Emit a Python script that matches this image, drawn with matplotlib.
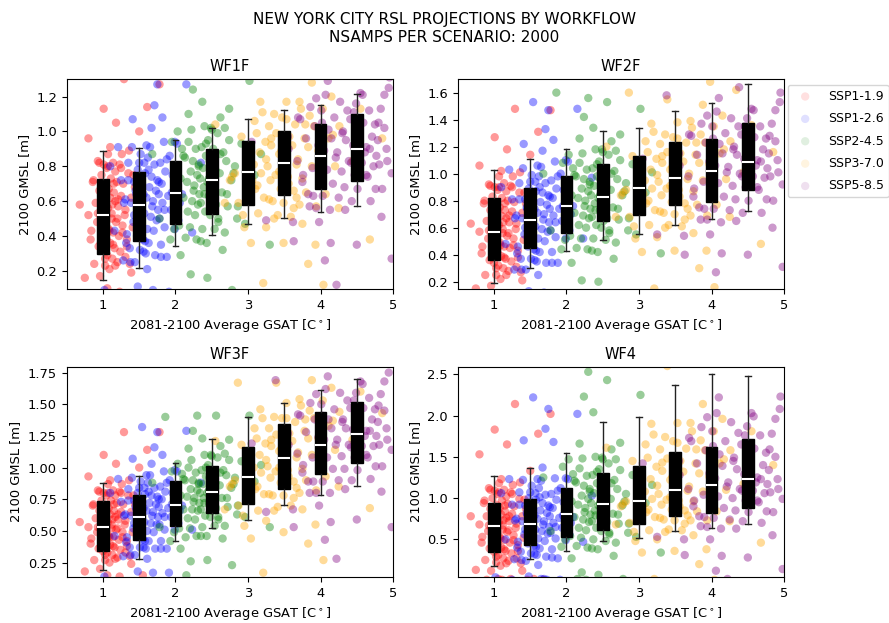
import matplotlib
matplotlib.use("Agg")
import matplotlib.pyplot as plt
from matplotlib.ticker import MultipleLocator

plt.rcParams.update({
    "xtick.labelsize": 9.4,
    "ytick.labelsize": 9.4,
    "axes.labelsize": 9.4,
    "axes.titlesize": 10.5,
})

# ---------------------------------------------------------------------------
# Scenario labels and colours
scenarios = ["SSP1-1.9", "SSP1-2.6", "SSP2-4.5", "SSP3-7.0", "SSP5-8.5"]
colors = ["red", "blue", "green", "orange", "purple"]
workflows = ["WF1F", "WF2F", "WF3F", "WF4"]

# 2081-2100 average GSAT samples [deg C] per scenario
gsat_ssp119 = [0.68, 0.75, 0.80, 0.84, 0.87, 0.90, 0.93, 0.95, 0.97, 0.99,
               1.01, 1.03, 1.04, 1.06, 1.07, 1.09, 1.10, 1.11, 1.13, 1.14,
               1.15, 1.17, 1.18, 1.20, 1.21, 1.23, 1.25, 1.27, 1.29, 1.31,
               1.33, 1.36, 1.39, 1.42, 1.46, 1.50, 1.55, 1.61, 1.68, 1.78,
               .80, .83, .86, .88, .90, .92, .93, .94, .95, .96,
               .97, .98, .99, 1.00, 1.00, 1.01, 1.02, 1.03, 1.03, 1.04,
               1.05, 1.05, 1.06, 1.07, 1.07, 1.08, 1.08, 1.09, 1.10, 1.10,
               1.11, 1.12, 1.12, 1.13, 1.14, 1.14, 1.15, 1.16, 1.17, 1.17,
               1.18, 1.19, 1.20, 1.21, 1.22, 1.23, 1.24, 1.25, 1.26, 1.27,
               1.28, 1.30, 1.31, 1.33, 1.35, 1.37, 1.39, 1.41, 1.44, 1.48]
gsat_ssp126 = [1.02, 1.10, 1.16, 1.21, 1.25, 1.29, 1.32, 1.35, 1.38, 1.41,
               1.43, 1.46, 1.48, 1.50, 1.52, 1.54, 1.56, 1.58, 1.60, 1.61,
               1.63, 1.65, 1.67, 1.69, 1.71, 1.73, 1.75, 1.77, 1.80, 1.82,
               1.85, 1.88, 1.91, 1.95, 1.99, 2.04, 2.09, 2.15, 2.23, 2.35,
               1.25, 1.28, 1.31, 1.33, 1.35, 1.37, 1.39, 1.40, 1.42, 1.43,
               1.44, 1.45, 1.47, 1.48, 1.49, 1.50, 1.51, 1.52, 1.53, 1.54,
               1.55, 1.56, 1.57, 1.57, 1.58, 1.59, 1.60, 1.61, 1.62, 1.63,
               1.64, 1.65, 1.66, 1.67, 1.68, 1.69, 1.70, 1.71, 1.72, 1.73,
               1.74, 1.75, 1.76, 1.77, 1.78, 1.79, 1.80, 1.81, 1.82, 1.84,
               1.85, 1.86, 1.88, 1.90, 1.92, 1.94, 1.96, 1.99, 2.02, 2.06]
gsat_ssp245 = [1.68, 1.78, 1.86, 1.93, 1.98, 2.03, 2.07, 2.11, 2.15, 2.18,
               2.21, 2.24, 2.27, 2.30, 2.32, 2.35, 2.37, 2.40, 2.42, 2.44,
               2.46, 2.49, 2.51, 2.54, 2.56, 2.59, 2.62, 2.65, 2.68, 2.71,
               2.74, 2.78, 2.82, 2.86, 2.91, 2.96, 3.02, 3.09, 3.18, 3.30,
               1.95, 1.99, 2.02, 2.05, 2.07, 2.09, 2.11, 2.13, 2.14, 2.16,
               2.17, 2.18, 2.20, 2.21, 2.22, 2.23, 2.24, 2.25, 2.26, 2.27,
               2.28, 2.29, 2.30, 2.31, 2.32, 2.33, 2.34, 2.35, 2.36, 2.37,
               2.38, 2.39, 2.40, 2.41, 2.42, 2.43, 2.44, 2.45, 2.46, 2.47,
               2.48, 2.50, 2.51, 2.52, 2.54, 2.55, 2.56, 2.58, 2.59, 2.61,
               2.62, 2.64, 2.66, 2.68, 2.70, 2.72, 2.74, 2.77, 2.80, 2.85]
gsat_ssp370 = [2.55, 2.68, 2.78, 2.86, 2.93, 2.99, 3.04, 3.09, 3.13, 3.17,
               3.21, 3.25, 3.29, 3.32, 3.36, 3.39, 3.43, 3.46, 3.49, 3.53,
               3.56, 3.60, 3.63, 3.67, 3.71, 3.75, 3.79, 3.83, 3.88, 3.93,
               3.98, 4.04, 4.10, 4.17, 4.25, 4.34, 4.44, 4.55, 4.68, 4.85,
               2.75, 2.82, 2.87, 2.91, 2.95, 2.98, 3.01, 3.04, 3.06, 3.08,
               3.10, 3.12, 3.14, 3.16, 3.18, 3.20, 3.22, 3.24, 3.25, 3.27,
               3.29, 3.31, 3.32, 3.34, 3.36, 3.38, 3.39, 3.41, 3.43, 3.45,
               3.47, 3.49, 3.51, 3.53, 3.55, 3.57, 3.59, 3.61, 3.63, 3.65,
               3.67, 3.69, 3.71, 3.73, 3.75, 3.78, 3.80, 3.83, 3.85, 3.88,
               3.91, 3.94, 3.97, 4.00, 4.03, 4.07, 4.11, 4.15, 4.20, 4.26]
gsat_ssp585 = [3.05, 3.25, 3.38, 3.48, 3.56, 3.63, 3.69, 3.75, 3.80, 3.85,
               3.90, 3.94, 3.98, 4.02, 4.06, 4.10, 4.14, 4.18, 4.22, 4.26,
               4.30, 4.34, 4.38, 4.42, 4.46, 4.50, 4.54, 4.58, 4.63, 4.68,
               4.72, 4.76, 4.80, 4.84, 4.88, 4.92, 4.95, 4.98, 5.06, 5.20,
               3.55, 3.62, 3.68, 3.72, 3.76, 3.80, 3.83, 3.86, 3.89, 3.92,
               3.94, 3.97, 3.99, 4.01, 4.03, 4.05, 4.07, 4.09, 4.11, 4.13,
               4.15, 4.17, 4.19, 4.21, 4.23, 4.25, 4.27, 4.29, 4.31, 4.33,
               4.35, 4.37, 4.39, 4.41, 4.43, 4.45, 4.47, 4.49, 4.51, 4.53,
               4.55, 4.57, 4.59, 4.61, 4.63, 4.65, 4.67, 4.69, 4.71, 4.73,
               4.75, 4.77, 4.79, 4.81, 4.83, 4.85, 4.88, 4.91, 4.94, 4.98]

# 2100 GMSL samples [m], workflow WF1F
wf1f_ssp119 = [.58, .16, .96, .43, .72, .04, .53, .82, .36, .50, 1.13, .27, .65, .10, .80, .43, .91, .02, .58, .35,
               .70, .23, 1.05, .50, .61, .08, .79, .42, 1.30, .28, .34, .89, .19, .75, .03, 1.00, .07, 1.14, .02, 1.27,
               .52, .38, .71, .24, .59, .48, .83, .34, .66, .17, .51, .75, .43, .63, .32, .81, .46, .70, .23, .58,
               .38, .79, .29, .56, .87, .44, .67, .21, .62, .36, .73, .50, .53, .27, .82, .42, .65, .33, .60, .77,
               .48, .71, .25, .57, .40, .81, .31, .63, .87, .46, .70, .52, .55, .38, .76, .24, .62, .45, .68, .52]
wf1f_ssp126 = [.09, .80, .43, .91, .02, .59, .36, .72, .25, 1.07, .52, .64, .11, .82, .45, 1.33, .31, .37, .92, .21,
               .78, .03, 1.02, .09, 1.15, .02, 1.27, .71, .28, 1.08, .55, .84, .08, .65, .94, .49, .64, 1.27, .42, .82,
               .72, .26, .61, .41, .82, .33, .59, .91, .48, .71, .25, .66, .40, .78, .55, .58, .32, .87, .46, .70,
               .38, .64, .82, .53, .76, .30, .62, .44, .85, .36, .68, .91, .51, .74, .57, .60, .43, .81, .29, .66,
               .49, .72, .55, .64, .50, .82, .35, .70, .59, .94, .45, .77, .28, .63, .86, .55, .75, .44, .93, .59]
wf1f_ssp245 = [.87, .50, 1.40, .38, .44, 1.00, .29, .86, .07, 1.10, .18, 1.24, .02, 1.36, .80, .37, 1.17, .64, .93, .16,
               .73, 1.02, .56, .71, 1.34, .48, .87, .32, 1.02, .64, 1.13, .09, .80, .57, .93, .47, 1.29, .75, .87, .35,
               .94, .54, .78, .46, .73, .90, .62, .85, .39, .71, .54, .94, .45, .77, 1.01, .60, .83, .66, .69, .52,
               .90, .38, .75, .58, .81, .64, .73, .59, .91, .44, .79, .68, 1.03, .54, .86, .36, .71, .95, .63, .83,
               .52, 1.01, .66, .90, .44, .78, .58, .99, .50, .76, 1.08, .65, .88, .42, .83, .57, .95, .72, .76, .50]
wf1f_ssp370 = [1.04, .59, .74, 1.37, .52, .91, .36, 1.06, .69, 1.17, .13, .84, .61, .96, .50, 1.32, .77, .89, .36, 1.07,
               .70, 1.58, .56, .62, 1.17, .47, 1.04, .24, 1.28, .35, 1.42, .12, 1.54, .98, .56, 1.36, .83, 1.13, .38, .96,
               .72, .76, .59, .97, .45, .83, .66, .90, .72, .81, .67, .99, .53, .88, .76, 1.11, .62, .94, .45, .80,
               1.03, .72, .92, .60, 1.10, .75, .99, .52, .87, .67, 1.08, .59, .85, 1.17, .74, .97, .51, .92, .66, 1.04,
               .81, .84, .58, 1.13, .73, .96, .65, .91, 1.09, .80, 1.03, .57, .89, .72, 1.13, .64, .96, 1.20, .80, 1.03]
wf1f_ssp585 = [.94, .49, 1.32, .77, .90, .37, 1.08, .71, 1.60, .57, .63, 1.19, .48, 1.05, .26, 1.29, .36, 1.42, .12, 1.55,
               .99, .55, 1.35, .82, 1.11, .35, .92, 1.21, .75, .90, 1.53, .67, 1.05, .51, 1.21, .83, 1.31, .27, .99, .77,
               .97, .48, .83, 1.07, .75, .96, .64, 1.14, .79, 1.03, .56, .92, .71, 1.12, .63, .89, 1.21, .78, 1.01, .55,
               .96, .70, 1.08, .85, .88, .62, 1.17, .77, 1.00, .68, .95, 1.12, .83, 1.07, .60, .92, .75, 1.16, .67, .99,
               1.22, .82, 1.05, .88, .91, .74, 1.12, .60, .97, .80, 1.04, .86, .95, .81, 1.13, .67, 1.02, .90, 1.25, .76]

# workflow WF2F
wf2f_ssp119 = [.63, .15, 1.06, .46, .80, .02, .58, .91, .38, .55, 1.27, .30, .73, .10, .90, .47, 1.02, .01, .64, .38,
               .78, .25, 1.18, .56, .69, .08, .90, .47, 1.48, .31, .38, 1.01, .21, .86, .03, 1.14, .09, 1.31, .02, 1.47,
               .57, .41, .78, .25, .65, .52, .92, .36, .73, .17, .57, .83, .47, .70, .34, .90, .51, .77, .25, .64,
               .42, .88, .32, .62, .98, .49, .75, .22, .69, .39, .82, .56, .59, .30, .93, .46, .73, .37, .67, .87,
               .54, .80, .28, .64, .45, .91, .35, .72, .98, .52, .79, .59, .63, .43, .86, .27, .71, .51, .78, .59]
wf2f_ssp126 = [.09, .90, .48, 1.03, .02, .67, .41, .81, .29, 1.22, .60, .74, .13, .94, .52, 1.53, .36, .43, 1.06, .25,
               .90, .04, 1.17, .12, 1.33, .02, 1.47, .83, .34, 1.25, .64, .98, .11, .76, 1.10, .58, .76, 1.48, .52, .97,
               .81, .29, .69, .46, .93, .37, .67, 1.04, .55, .81, .29, .75, .46, .89, .63, .66, .37, .99, .53, .80,
               .44, .74, .94, .61, .87, .35, .71, .52, .98, .42, .79, 1.05, .59, .86, .66, .70, .50, .93, .34, .77,
               .57, .84, .64, .74, .58, .95, .42, .82, .69, 1.09, .53, .89, .34, .74, 1.00, .65, .88, .52, 1.09, .70]
wf2f_ssp245 = [1.00, .58, 1.60, .44, .51, 1.14, .34, .99, .09, 1.26, .21, 1.42, .02, 1.56, .92, .43, 1.34, .73, 1.07, .20,
               .84, 1.18, .65, .82, 1.53, .56, 1.00, .37, 1.17, .74, 1.29, .11, .93, .67, 1.07, .55, 1.48, .86, 1.01, .41,
               1.08, .63, .90, .54, .84, 1.04, .71, .98, .45, .82, .62, 1.08, .52, .89, 1.15, .69, .96, .76, .80, .60,
               1.03, .44, .87, .67, .94, .74, .84, .68, 1.04, .52, .91, .78, 1.18, .62, .98, .42, .82, 1.09, .73, .96,
               .60, 1.16, .77, 1.03, .51, .90, .67, 1.14, .58, .88, 1.24, .75, 1.02, .49, .96, .66, 1.10, .84, .87, .58]
wf2f_ssp370 = [1.20, .68, .86, 1.60, .61, 1.06, .42, 1.24, .80, 1.37, .15, .99, .72, 1.13, .60, 1.55, .91, 1.05, .43, 1.26,
               .83, 1.87, .66, .74, 1.39, .56, 1.23, .30, 1.51, .43, 1.68, .16, 1.83, 1.18, .68, 1.62, 1.01, 1.36, .48, 1.16,
               .84, .88, .68, 1.13, .52, .97, .77, 1.05, .85, .95, .78, 1.16, .62, 1.03, .89, 1.31, .73, 1.11, .53, .94,
               1.22, .84, 1.08, .71, 1.29, .89, 1.16, .62, 1.03, .79, 1.27, .70, 1.01, 1.38, .88, 1.15, .61, 1.09, .78, 1.23,
               .96, 1.00, .69, 1.34, .87, 1.14, .77, 1.08, 1.29, .95, 1.23, .69, 1.07, .87, 1.35, .77, 1.15, 1.43, .96, 1.24]
wf2f_ssp585 = [1.11, .55, 1.58, .91, 1.06, .40, 1.29, .83, 1.93, .66, .74, 1.43, .55, 1.26, .27, 1.56, .41, 1.73, .11, 1.88,
               1.18, .65, 1.64, .98, 1.35, .40, 1.10, 1.47, .90, 1.09, 1.86, .81, 1.28, .60, 1.47, 1.01, 1.60, .31, 1.20, .93,
               1.15, .54, .98, 1.28, .89, 1.14, .75, 1.37, .94, 1.23, .66, 1.09, .84, 1.35, .74, 1.06, 1.46, .93, 1.22, .64,
               1.15, .83, 1.30, 1.01, 1.05, .73, 1.41, .91, 1.20, .81, 1.14, 1.35, 1.00, 1.29, .71, 1.11, .90, 1.41, .80, 1.19,
               1.48, .98, 1.27, 1.06, 1.10, .88, 1.35, .71, 1.18, .97, 1.26, 1.04, 1.15, .98, 1.37, .80, 1.24, 1.10, 1.53, .92]

# workflow WF3F
wf3f_ssp119 = [.57, .18, .93, .44, .71, .01, .53, .81, .38, .52, 1.10, .31, .66, .15, .80, .45, .90, .02, .59, .38,
               .71, .28, 1.03, .52, .63, .14, .80, .45, 1.28, .33, .38, .90, .24, .78, .04, 1.00, .15, 1.14, .02, 1.28,
               .53, .40, .70, .27, .60, .49, .82, .36, .66, .20, .53, .74, .45, .64, .34, .80, .48, .70, .27, .59,
               .40, .78, .33, .57, .87, .46, .68, .25, .63, .39, .74, .52, .55, .31, .82, .45, .66, .37, .61, .78,
               .51, .72, .29, .59, .43, .81, .35, .65, .87, .49, .71, .55, .58, .42, .78, .30, .65, .49, .71, .56]
wf3f_ssp126 = [.14, .80, .46, .91, .03, .62, .41, .74, .31, 1.07, .56, .67, .18, .84, .50, 1.32, .37, .42, .94, .28,
               .81, .07, 1.03, .17, 1.16, .02, 1.28, .75, .36, 1.10, .61, .88, .17, .71, .98, .56, .70, 1.29, .51, .88,
               .73, .30, .63, .45, .83, .37, .62, .92, .52, .74, .31, .69, .45, .80, .58, .61, .37, .89, .51, .73,
               .43, .68, .84, .57, .79, .36, .66, .50, .88, .42, .72, .94, .56, .78, .62, .65, .49, .84, .36, .71,
               .55, .77, .61, .69, .55, .85, .42, .75, .64, .97, .51, .81, .36, .68, .90, .61, .80, .51, .97, .66]
wf3f_ssp245 = [.88, .53, 1.40, .42, .49, 1.03, .36, .91, .15, 1.15, .26, 1.29, .03, 1.41, .87, .46, 1.23, .72, 1.00, .27,
               .82, 1.10, .66, .80, 1.41, .59, .96, .44, 1.11, .76, 1.22, .23, .92, .70, 1.05, .61, 1.41, .89, 1.02, .53,
               .97, .59, .82, .52, .78, .95, .67, .90, .45, .77, .60, 1.00, .52, .83, 1.06, .67, .90, .73, .76, .59,
               .96, .46, .82, .66, .88, .72, .80, .67, .98, .53, .87, .76, 1.10, .62, .93, .46, .80, 1.02, .72, .92,
               .61, 1.09, .76, .98, .54, .88, .68, 1.08, .61, .86, 1.17, .76, .98, .54, .94, .69, 1.06, .84, .87, .63]
wf3f_ssp370 = [1.21, .67, .87, 1.67, .62, 1.11, .44, 1.31, .85, 1.46, .17, 1.06, .79, 1.22, .66, 1.67, 1.00, 1.15, .49, 1.39,
               .93, 2.03, .76, .84, 1.54, .67, 1.38, .40, 1.69, .55, 1.88, .27, 2.05, 1.37, .85, 1.86, 1.22, 1.60, .68, 1.43,
               .85, .90, .70, 1.18, .54, 1.01, .81, 1.10, .89, 1.00, .83, 1.23, .66, 1.10, .96, 1.39, .79, 1.19, .58, 1.01,
               1.31, .92, 1.17, .78, 1.40, .97, 1.26, .69, 1.13, .88, 1.39, .78, 1.11, 1.51, .98, 1.27, .70, 1.21, .89, 1.36,
               1.08, 1.12, .80, 1.49, .99, 1.29, .90, 1.23, 1.45, 1.10, 1.39, .82, 1.23, 1.02, 1.53, .93, 1.33, 1.63, 1.14, 1.44]
wf3f_ssp585 = [1.19, .65, 1.69, 1.02, 1.18, .53, 1.42, .96, 2.07, .80, .89, 1.58, .70, 1.41, .43, 1.72, .57, 1.89, .28, 2.05,
               1.36, .83, 1.82, 1.16, 1.53, .59, 1.30, 1.66, 1.10, 1.29, 2.07, 1.01, 1.49, .81, 1.68, 1.22, 1.82, .53, 1.43, 1.17,
               1.27, .67, 1.11, 1.41, 1.02, 1.28, .89, 1.51, 1.08, 1.38, .80, 1.24, .99, 1.50, .89, 1.22, 1.62, 1.08, 1.38, .80,
               1.31, .99, 1.46, 1.18, 1.22, .90, 1.59, 1.09, 1.38, .99, 1.31, 1.53, 1.18, 1.47, .90, 1.30, 1.08, 1.59, .98, 1.38,
               1.68, 1.17, 1.47, 1.25, 1.29, 1.08, 1.55, .91, 1.38, 1.17, 1.46, 1.25, 1.36, 1.18, 1.58, 1.01, 1.45, 1.31, 1.75, 1.14]

# workflow WF4
wf4_ssp119 = [.78, .13, 1.53, .53, .97, .01, .67, 1.10, .41, .63, 1.83, .29, .85, .02, 1.07, .51, 1.23, .01, .73, .38,
              .91, .21, 1.65, .61, .78, .02, 1.05, .49, 2.14, .27, .36, 1.19, .12, .98, .01, 1.33, .02, 1.78, .01, 2.02,
              .68, .46, .94, .25, .78, .60, 1.12, .39, .87, .12, .65, 1.00, .52, .83, .35, 1.09, .57, .92, .22, .75,
              .44, 1.05, .31, .71, 1.18, .53, .88, .18, .80, .40, .97, .62, .67, .27, 1.10, .49, .84, .36, .76, 1.02,
              .59, .93, .24, .72, .46, 1.07, .33, .81, 1.16, .55, .90, .64, .69, .43, .99, .21, .78, .52, .87, .62]
wf4_ssp126 = [.04, 1.06, .50, 1.23, .01, .73, .40, .92, .25, 1.70, .62, .80, .05, 1.07, .52, 2.22, .32, .41, 1.23, .19,
              1.01, .02, 1.37, .02, 1.84, .01, 2.08, .89, .28, 1.68, .65, 1.09, .01, .79, 1.24, .56, .77, 2.02, .47, 1.03,
              .92, .26, .75, .47, 1.07, .35, .72, 1.22, .56, .91, .24, .82, .45, 1.00, .65, .69, .33, 1.15, .54, .88,
              .42, .79, 1.06, .62, .98, .31, .75, .51, 1.12, .39, .85, 1.21, .60, .94, .68, .72, .48, 1.04, .29, .82,
              .57, .91, .65, .78, .58, 1.05, .38, .88, .70, 1.24, .51, .98, .27, .76, 1.12, .64, .95, .49, 1.23, .70]
wf4_ssp245 = [1.25, .60, 2.67, .41, .50, 1.47, .27, 1.21, .02, 1.66, .10, 2.23, .01, 2.53, 1.08, .39, 2.04, .79, 1.32, .07,
              .94, 1.49, .68, .90, 2.43, .56, 1.18, .30, 1.47, .80, 1.67, .02, 1.05, .69, 1.28, .53, 2.25, .94, 1.16, .34,
              1.38, .66, 1.06, .54, .96, 1.29, .77, 1.19, .42, .92, .64, 1.36, .52, 1.03, 1.48, .74, 1.15, .83, .88, .61,
              1.27, .40, .99, .71, 1.11, .80, .94, .72, 1.28, .50, 1.06, .85, 1.50, .64, 1.18, .38, .91, 1.35, .78, 1.13,
              .60, 1.47, .83, 1.25, .48, 1.03, .71, 1.42, .58, .99, 1.59, .81, 1.22, .46, 1.11, .69, 1.34, .91, .96, .58]
wf4_ssp370 = [1.61, .68, .93, 2.80, .59, 1.30, .34, 1.65, .86, 1.90, .02, 1.15, .76, 1.43, .59, 2.60, 1.01, 1.26, .36, 1.67,
              .90, 3.38, .69, .79, 1.91, .55, 1.59, .20, 2.14, .38, 2.85, .01, 3.22, 1.47, .72, 2.66, 1.17, 1.81, .46, 1.40,
              .90, .96, .70, 1.45, .48, 1.13, .82, 1.27, .92, 1.08, .83, 1.49, .61, 1.23, .99, 1.77, .77, 1.38, .50, 1.05,
              1.59, .92, 1.33, .74, 1.74, .98, 1.48, .62, 1.22, .86, 1.69, .73, 1.17, 1.91, .97, 1.45, .61, 1.32, .85, 1.60,
              1.09, 1.14, .73, 1.81, .96, 1.42, .84, 1.30, 1.70, 1.08, 1.58, .73, 1.26, .97, 1.81, .84, 1.42, 1.96, 1.10, 1.58]
wf4_ssp585 = [1.42, .53, 2.72, 1.01, 1.28, .31, 1.73, .90, 3.57, .66, .77, 1.98, .50, 1.63, .12, 2.22, .30, 2.97, .02, 3.36,
              1.45, .63, 2.71, 1.09, 1.76, .28, 1.27, 1.99, .97, 1.23, 3.23, .84, 1.59, .55, 1.96, 1.11, 2.23, .14, 1.41, 1.00,
              1.45, .50, 1.11, 1.69, .97, 1.42, .78, 1.86, 1.04, 1.58, .65, 1.30, .91, 1.81, .76, 1.24, 2.03, 1.02, 1.53, .63,
              1.39, .88, 1.69, 1.14, 1.19, .74, 1.92, 1.00, 1.49, .85, 1.35, 1.79, 1.11, 1.65, .72, 1.29, .97, 1.87, .83, 1.45,
              2.03, 1.09, 1.60, 1.19, 1.25, .95, 1.76, .70, 1.40, 1.06, 1.55, 1.17, 1.34, 1.07, 1.78, .83, 1.50, 1.23, 2.08, .99]

# GSAT bin centres for the summary boxes
bin_centres = [1.0, 1.5, 2.0, 2.5, 3.0, 3.5, 4.0, 4.5]

# Per-bin GMSL summary: whisker low, Q1, median, Q3, whisker high
wf1f_lo = [0.146, 0.219, 0.342, 0.403, 0.468, 0.503, 0.537, 0.572]
wf1f_q1 = [0.296, 0.372, 0.468, 0.529, 0.577, 0.635, 0.667, 0.713]
wf1f_med = [0.518, 0.575, 0.648, 0.723, 0.767, 0.821, 0.859, 0.899]
wf1f_q3 = [0.727, 0.767, 0.830, 0.897, 0.945, 1.003, 1.043, 1.102]
wf1f_hi = [0.890, 0.907, 0.953, 1.018, 1.070, 1.125, 1.150, 1.217]

wf2f_lo = [0.191, 0.305, 0.426, 0.512, 0.554, 0.620, 0.667, 0.726]
wf2f_q1 = [0.359, 0.453, 0.564, 0.652, 0.692, 0.771, 0.793, 0.879]
wf2f_med = [0.571, 0.660, 0.758, 0.830, 0.896, 0.970, 1.020, 1.084]
wf2f_q3 = [0.818, 0.896, 0.983, 1.069, 1.131, 1.232, 1.259, 1.375]
wf2f_hi = [1.030, 1.108, 1.182, 1.313, 1.338, 1.461, 1.520, 1.663]

wf3f_lo = [0.195, 0.282, 0.418, 0.526, 0.589, 0.704, 0.783, 0.857]
wf3f_q1 = [0.345, 0.429, 0.539, 0.639, 0.710, 0.831, 0.951, 1.033]
wf3f_med = [0.531, 0.613, 0.704, 0.810, 0.922, 1.072, 1.177, 1.264]
wf3f_q3 = [0.733, 0.781, 0.891, 1.012, 1.164, 1.343, 1.437, 1.521]
wf3f_hi = [0.880, 0.933, 1.033, 1.227, 1.400, 1.511, 1.613, 1.700]

wf4_lo = [0.178, 0.267, 0.360, 0.478, 0.514, 0.599, 0.632, 0.688]
wf4_q1 = [0.352, 0.429, 0.530, 0.615, 0.688, 0.777, 0.822, 0.883]
wf4_med = [0.656, 0.692, 0.802, 0.923, 0.964, 1.097, 1.154, 1.231]
wf4_q3 = [0.943, 0.988, 1.117, 1.308, 1.385, 1.559, 1.623, 1.717]
wf4_hi = [1.271, 1.364, 1.547, 1.927, 1.980, 2.368, 2.506, 2.482]

# Vertical range and tick step of each panel
wf1f_ylim = (0.095, 1.30)
wf2f_ylim = (0.145, 1.70)
wf3f_ylim = (0.137, 1.795)
wf4_ylim = (0.045, 2.59)
ytick_steps = [0.2, 0.2, 0.25, 0.5]

# ---------------------------------------------------------------------------
gsat = [gsat_ssp119, gsat_ssp126, gsat_ssp245, gsat_ssp370, gsat_ssp585]
panels = [
    ([wf1f_ssp119, wf1f_ssp126, wf1f_ssp245, wf1f_ssp370, wf1f_ssp585],
     (wf1f_lo, wf1f_q1, wf1f_med, wf1f_q3, wf1f_hi), wf1f_ylim),
    ([wf2f_ssp119, wf2f_ssp126, wf2f_ssp245, wf2f_ssp370, wf2f_ssp585],
     (wf2f_lo, wf2f_q1, wf2f_med, wf2f_q3, wf2f_hi), wf2f_ylim),
    ([wf3f_ssp119, wf3f_ssp126, wf3f_ssp245, wf3f_ssp370, wf3f_ssp585],
     (wf3f_lo, wf3f_q1, wf3f_med, wf3f_q3, wf3f_hi), wf3f_ylim),
    ([wf4_ssp119, wf4_ssp126, wf4_ssp245, wf4_ssp370, wf4_ssp585],
     (wf4_lo, wf4_q1, wf4_med, wf4_q3, wf4_hi), wf4_ylim),
]

fig, axes = plt.subplots(2, 2, figsize=(8.89, 6.23), dpi=100)
fig.subplots_adjust(left=0.075, right=0.882, top=0.873, bottom=0.074,
                    wspace=0.198, hspace=0.37)

for ax, title, step, (gmsl, summary, ylim) in zip(axes.flat, workflows,
                                                  ytick_steps, panels):
    for name, xs, ys, col in zip(scenarios, gsat, gmsl, colors):
        ax.scatter(xs, ys, s=36, color=col, alpha=0.4, edgecolors="none",
                   label=name, zorder=1)

    lo, q1, med, q3, hi = summary
    stats = [dict(whislo=a, q1=b, med=c, q3=d, whishi=e, fliers=[])
             for a, b, c, d, e in zip(lo, q1, med, q3, hi)]
    ax.bxp(stats, positions=bin_centres, widths=0.16, patch_artist=True,
           showfliers=False, manage_ticks=False,
           boxprops=dict(facecolor="black", edgecolor="black"),
           medianprops=dict(color="white", linewidth=1.5),
           whiskerprops=dict(color="#222222"),
           capprops=dict(color="#222222"))

    ax.set_xlim(0.5, 5.0)
    ax.set_xticks([1, 2, 3, 4, 5])
    ax.set_ylim(*ylim)
    ax.yaxis.set_major_locator(MultipleLocator(step))
    ax.set_title(title)
    ax.set_xlabel(r"2081-2100 Average GSAT [C$^\circ$]")
    ax.set_ylabel("2100 GMSL [m]")

leg = axes[0, 1].legend(loc="upper left", bbox_to_anchor=(1.011, 0.973),
                        borderaxespad=0, fontsize=9, labelspacing=0.75)
for h in leg.legend_handles:
    h.set_alpha(0.12)

fig.suptitle("NEW YORK CITY RSL PROJECTIONS BY WORKFLOW\nNSAMPS PER SCENARIO: 2000",
             fontsize=11)

fig.savefig("out.png", dpi=100)
